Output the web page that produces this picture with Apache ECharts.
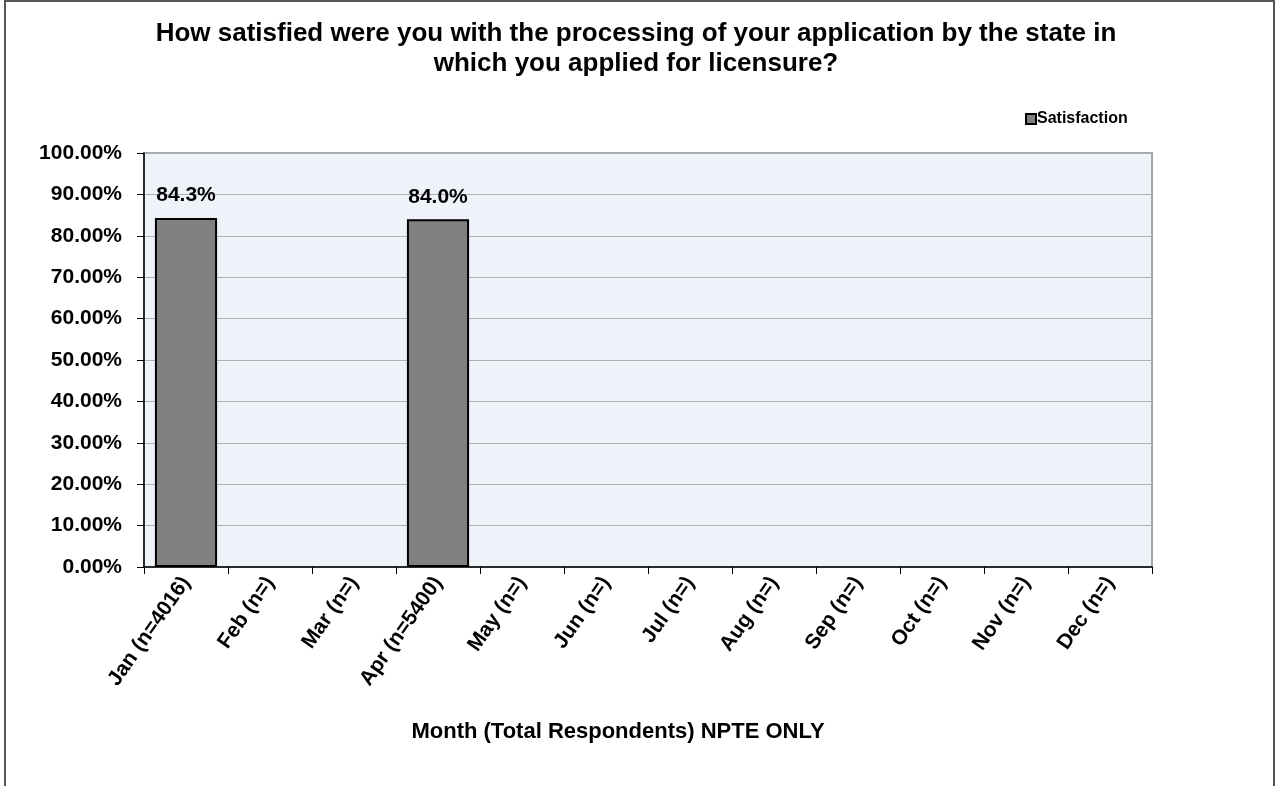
<!DOCTYPE html>
<html>
<head>
<meta charset="utf-8">
<script src="https://cdn.jsdelivr.net/npm/echarts@6/dist/echarts.min.js"></script>
<style>
  html, body { margin: 0; padding: 0; background: #fff; }
  #chart { width: 1275px; height: 786px; }
</style>
</head>
<body>
<div id="chart"></div>
<script>
// Monthly satisfaction with state licensure processing (NPTE only)
const months = ['Jan (n=4016)', 'Feb (n=)', 'Mar (n=)', 'Apr (n=5400)', 'May (n=)', 'Jun (n=)',
                'Jul (n=)', 'Aug (n=)', 'Sep (n=)', 'Oct (n=)', 'Nov (n=)', 'Dec (n=)'];
const satisfaction = [0.843, null, null, 0.840, null, null, null, null, null, null, null, null];
const seriesName = 'Satisfaction';
const titleText = 'How satisfied were you with the processing of your application by the state in\nwhich you applied for licensure?';
const xAxisTitle = 'Month (Total Respondents) NPTE ONLY';

const FONT = "'Liberation Sans', Arial, sans-serif";
const chart = echarts.init(document.getElementById('chart'), null, { renderer: 'canvas' });

chart.setOption({
  backgroundColor: '#ffffff',
  animation: false,
  textStyle: { fontFamily: FONT },
  title: {
    text: titleText,
    left: 631,
    top: 14,
    textAlign: 'center',
    textStyle: { fontFamily: FONT, fontWeight: 'bold', fontSize: 26, color: '#000', lineHeight: 30 }
  },
  legend: {
    data: [seriesName],
    left: 1020,
    top: 106,
    icon: 'rect',
    itemWidth: 10,
    itemHeight: 10,
    itemGap: 2,
    itemStyle: { borderColor: '#000', borderWidth: 2 },
    textStyle: { fontFamily: FONT, fontWeight: 'bold', fontSize: 16, color: '#000', padding: [0, 0, 0, -4] }
  },
  grid: {
    left: 144,
    top: 153,
    width: 1008,
    height: 414,
    show: true,
    backgroundColor: '#eef3fa',
    borderColor: '#a6a6a6',
    borderWidth: 2,
    containLabel: false
  },
  xAxis: {
    type: 'category',
    data: months,
    boundaryGap: true,
    name: xAxisTitle,
    nameLocation: 'middle',
    nameGap: 154,
    nameTextStyle: { fontFamily: FONT, fontWeight: 'bold', fontSize: 22, color: '#000', padding: [0, 0, 0, -60] },
    axisLine: { show: true, lineStyle: { color: '#000', width: 1.5 } },
    axisTick: { show: true, alignWithLabel: false, length: 7, lineStyle: { color: '#000' } },
    axisLabel: {
      interval: 0,
      rotate: 55,
      margin: 12,
      fontFamily: FONT,
      fontWeight: 'bold',
      fontSize: 21,
      color: '#000'
    },
    splitLine: { show: false }
  },
  yAxis: {
    type: 'value',
    min: 0,
    max: 1,
    interval: 0.1,
    axisLine: { show: true, lineStyle: { color: '#000', width: 1.5 } },
    axisTick: { show: true, length: 7, lineStyle: { color: '#000' } },
    axisLabel: {
      margin: 22,
      fontFamily: FONT,
      fontWeight: 'bold',
      fontSize: 21,
      color: '#000',
      formatter: v => (v * 100).toFixed(2) + '%'
    },
    splitLine: { show: true, lineStyle: { color: '#b0b0b0', width: 1 } }
  },
  series: [{
    name: seriesName,
    type: 'bar',
    data: satisfaction,
    barCategoryGap: '26%',
    itemStyle: { color: '#808080', borderColor: '#000', borderWidth: 2 },
    label: {
      show: true,
      position: 'top',
      distance: 12,
      fontFamily: FONT,
      fontWeight: 'bold',
      fontSize: 21,
      color: '#000',
      formatter: p => (p.value * 100).toFixed(1) + '%'
    }
  }],
  graphic: [{
    type: 'rect',
    shape: { x: 5, y: 1, width: 1269, height: 800 },
    style: { fill: null, stroke: '#555', lineWidth: 2 },
    silent: true,
    z: -1
  }]
});
</script>
</body>
</html>
